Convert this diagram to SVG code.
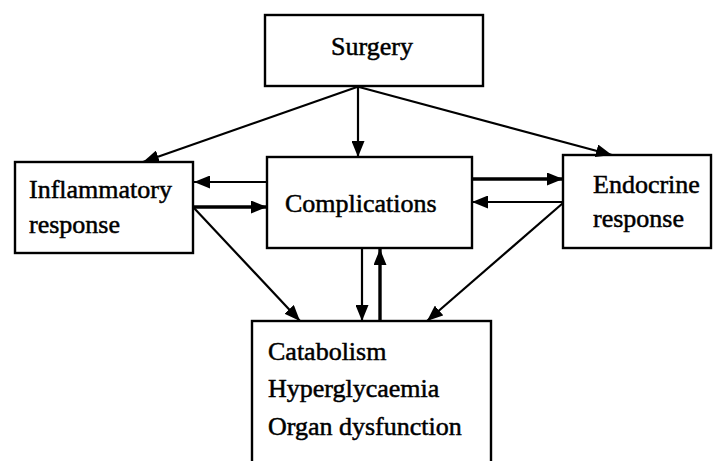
<svg xmlns="http://www.w3.org/2000/svg" width="716" height="461" viewBox="0 0 716 461">
  <style>
    .box { fill: #ffffff; stroke: #000000; stroke-width: 2.4; }
    .lbl { font-family: "Liberation Serif", "Times New Roman", serif; font-size: 26px; fill: #000000; stroke: #000000; stroke-width: 0.5; }
    .ln { stroke: #000000; stroke-width: 2.2; fill: none; marker-end: url(#ah); }
    .thick { stroke-width: 3.4; }
  </style>
  <defs>
    <marker id="ah" markerUnits="userSpaceOnUse" markerWidth="16" markerHeight="13" refX="16" refY="6.5" orient="auto">
      <path d="M0,0 L16,6.5 L0,13 z" fill="#000000"/>
    </marker>
  </defs>
  <rect width="716" height="461" fill="#ffffff"/>

  <g id="surgery">
    <rect class="box" x="265" y="15" width="218" height="71"/>
    <text class="lbl" x="372" y="55" text-anchor="middle">Surgery</text>
  </g>
  <g id="inflammatory">
    <rect class="box" x="15" y="162" width="178" height="91"/>
    <text class="lbl" x="29" y="198">Inflammatory</text>
    <text class="lbl" x="29" y="233">response</text>
  </g>
  <g id="complications">
    <rect class="box" x="267" y="157" width="205" height="91"/>
    <text class="lbl" x="285" y="212">Complications</text>
  </g>
  <g id="endocrine">
    <rect class="box" x="563" y="155" width="148" height="93"/>
    <text class="lbl" x="593" y="193">Endocrine</text>
    <text class="lbl" x="593" y="227">response</text>
  </g>
  <g id="outcomes">
    <rect class="box" x="252" y="321" width="239" height="150"/>
    <text class="lbl" x="268" y="360">Catabolism</text>
    <text class="lbl" x="268" y="397">Hyperglycaemia</text>
    <text class="lbl" x="268" y="435">Organ dysfunction</text>
  </g>

  <g id="connectors">
    <line class="ln" x1="357" y1="87" x2="143" y2="162"/>
    <line class="ln" x1="358" y1="87" x2="358" y2="157"/>
    <line class="ln" x1="359" y1="87" x2="612" y2="155"/>
    <line class="ln" x1="267" y1="182" x2="194" y2="182"/>
    <line class="ln thick" x1="194" y1="207" x2="267" y2="207"/>
    <line class="ln thick" x1="472" y1="179" x2="563" y2="179"/>
    <line class="ln" x1="563" y1="202" x2="472" y2="202"/>
    <line class="ln" x1="194" y1="208" x2="300" y2="321"/>
    <line class="ln" x1="563" y1="203" x2="427" y2="321"/>
    <line class="ln" x1="362" y1="249" x2="362" y2="321"/>
    <line class="ln thick" x1="380" y1="321" x2="380" y2="249"/>
  </g>
</svg>
